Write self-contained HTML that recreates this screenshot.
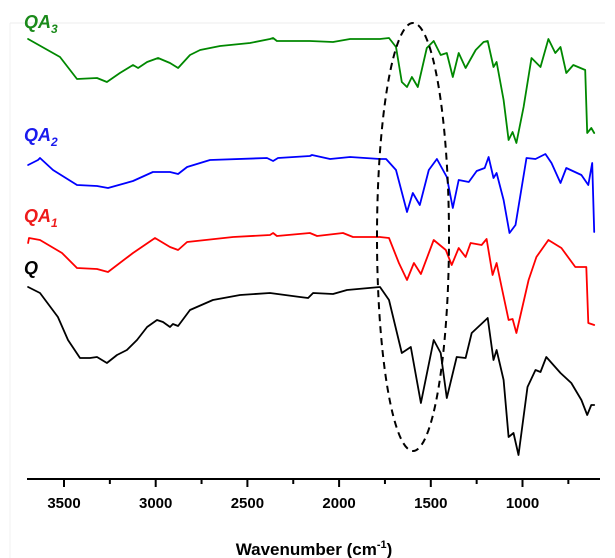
<!DOCTYPE html>
<html><head><meta charset="utf-8"><style>
html,body{margin:0;padding:0;background:#fff;}
svg{display:block;font-family:"Liberation Sans",Arial,sans-serif;}
</style></head><body>
<svg id="chart" width="615" height="558" viewBox="0 0 615 558" xmlns="http://www.w3.org/2000/svg">
<line x1="10" y1="23" x2="605" y2="23" stroke="#eeeeee" stroke-width="1"/>
<line x1="10" y1="23" x2="10" y2="558" stroke="#f0f0f0" stroke-width="1"/>
<g id="series"></g>
<ellipse cx="413" cy="237" rx="36" ry="214" fill="none" stroke="#000" stroke-width="2" stroke-dasharray="7,5"/>
<g id="axis"></g>
<text x="314" y="555" text-anchor="middle" font-size="17" font-weight="bold">Wavenumber (cm<tspan dy="-7" font-size="11">-1</tspan><tspan dy="7">)</tspan></text>
<text x="24" y="28" font-size="18" font-weight="bold" font-style="italic" fill="#1a8a1a">QA<tspan dy="5" font-size="12">3</tspan></text>
<text x="24" y="141" font-size="18" font-weight="bold" font-style="italic" fill="#1a1aee">QA<tspan dy="5" font-size="12">2</tspan></text>
<text x="24" y="222" font-size="18" font-weight="bold" font-style="italic" fill="#ee1a1a">QA<tspan dy="5" font-size="12">1</tspan></text>
<text x="24" y="274" font-size="18" font-weight="bold" font-style="italic" fill="#000">Q</text>
</svg>
<script>
const tickLabels = [3500, 3000, 2500, 2000, 1500, 1000];
const minorTicks = [3250, 2750, 2250, 1750, 1250, 750];

const wnQ = [3696,3631,3533,3478,3413,3358,3320,3266,3211,3157,3102,3047,2993,2960,2922,2906,2878,2813,2688,2540,2377,2213,2169,2142,2033,1957,1777,1728,1658,1609,1554,1484,1446,1413,1359,1310,1277,1201,1190,1158,1141,1103,1076,1049,1022,973,929,902,870,793,734,679,647,625,609];
const tQ = [193,187,163,140,122,122,123,117,125,130,140,153,160,158,153,156,154,170,180,185,187,183,182,187,186,190,193,180,127,133,77,140,127,82,123,122,147,160,162,120,130,100,43,47,25,93,110,108,123,107,97,80,65,75,75];

const wnQA1 = [3696,3691,3631,3511,3429,3320,3260,3124,3004,2922,2878,2829,2578,2377,2360,2339,2159,2120,1979,1924,1777,1728,1674,1630,1592,1554,1484,1418,1386,1348,1310,1283,1223,1196,1163,1141,1114,1076,1054,1033,967,924,859,788,712,652,641,609];
const tQA1 = [237,242,240,227,212,211,208,227,242,233,230,238,243,245,247,244,247,244,247,243,243,242,217,200,217,206,240,230,215,232,223,237,235,241,205,217,193,160,161,147,200,223,240,232,213,213,157,155];

const wnQA2 = [3696,3642,3631,3560,3429,3320,3260,3124,3015,2922,2878,2829,2704,2393,2360,2333,2159,2148,2049,1940,1777,1744,1690,1630,1598,1560,1511,1467,1413,1380,1348,1293,1250,1206,1185,1158,1141,1103,1071,1038,978,929,875,842,793,761,679,641,620,609];
const tQA2 = [315,320,322,310,295,294,292,299,308,308,306,313,320,322,319,322,324,325,321,323,321,321,310,268,287,275,310,321,303,272,300,298,309,312,323,302,307,280,247,255,322,321,326,317,297,312,305,295,317,248];

const wnQA3 = [3696,3522,3429,3320,3266,3195,3124,3096,3047,2987,2922,2878,2813,2758,2649,2486,2377,2360,2339,2159,2033,1940,1777,1728,1690,1658,1630,1603,1571,1522,1484,1446,1413,1380,1348,1310,1255,1212,1190,1158,1141,1103,1076,1054,1033,994,951,902,859,821,793,761,723,658,647,625,609];
const tQA3 = [441,423,401,402,398,407,415,412,418,422,417,412,425,430,434,437,441,442,439,439,438,441,441,442,433,398,393,403,393,432,439,425,427,403,427,412,430,438,439,413,418,380,340,348,337,373,422,413,441,427,433,407,415,410,347,352,347];

function xScale(w){ return 64 + (3500 - w) * 0.1834; }
function yScale(v){ return 480 - v; }

const NS = "http://www.w3.org/2000/svg";
const sg = document.getElementById('series');
function drawSeries(wn, vals, color, name){
  const pts = wn.map((w,i)=> xScale(w).toFixed(1)+','+yScale(vals[i]).toFixed(1)).join(' ');
  const pl = document.createElementNS(NS,'polyline');
  pl.setAttribute('points', pts);
  pl.setAttribute('fill','none');
  pl.setAttribute('stroke', color);
  pl.setAttribute('stroke-width','1.8');
  pl.setAttribute('stroke-linejoin','round');
  pl.setAttribute('stroke-linecap','round');
  
  
  sg.appendChild(pl);
}
drawSeries(wnQ, tQ, '#000000', 'series-q');
drawSeries(wnQA1, tQA1, '#ff0000', 'series-qa1');
drawSeries(wnQA2, tQA2, '#0000ff', 'series-qa2');
drawSeries(wnQA3, tQA3, '#008800', 'series-qa3');

const ax = document.getElementById('axis');
const axisY = 479;
const base = document.createElementNS(NS,'line');
base.setAttribute('x1', 27); base.setAttribute('x2', 600);
base.setAttribute('y1', axisY); base.setAttribute('y2', axisY);
base.setAttribute('stroke','#000'); base.setAttribute('stroke-width','2');


ax.appendChild(base);
tickLabels.forEach(t=>{
  const x = xScale(t);
  const l = document.createElementNS(NS,'line');
  l.setAttribute('x1',x); l.setAttribute('x2',x); l.setAttribute('y1',axisY); l.setAttribute('y2',axisY+8);
  l.setAttribute('stroke','#000'); l.setAttribute('stroke-width','2');
  
  
  ax.appendChild(l);
  const tx = document.createElementNS(NS,'text');
  tx.setAttribute('x',x); tx.setAttribute('y',axisY+29);
  tx.setAttribute('text-anchor','middle'); tx.setAttribute('font-size','15'); tx.setAttribute('font-weight','bold');
  tx.textContent = t;
  
  
  ax.appendChild(tx);
});
minorTicks.forEach(t=>{
  const x = xScale(t);
  const l = document.createElementNS(NS,'line');
  l.setAttribute('x1',x); l.setAttribute('x2',x); l.setAttribute('y1',axisY); l.setAttribute('y2',axisY+5);
  l.setAttribute('stroke','#000'); l.setAttribute('stroke-width','2');
  
  
  ax.appendChild(l);
});
</script>
</body></html>
